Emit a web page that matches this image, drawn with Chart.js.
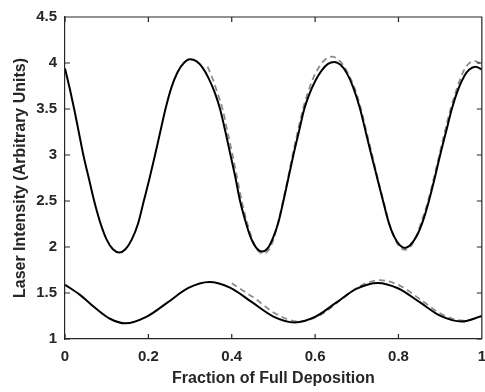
<!DOCTYPE html>
<html>
<head>
<meta charset="utf-8">
<script src="https://cdn.jsdelivr.net/npm/chart.js@4.4.0/dist/chart.umd.min.js"></script>
<style>
    html, body { margin: 0; padding: 0; background: #fff; overflow: hidden; }
    #wrap { width: 495px; height: 392px; }
</style>
</head>
<body>
<div id="wrap"><canvas id="chart" width="495" height="392"></canvas></div>
<script>
const upperX = [0, 0.011, 0.022, 0.033, 0.044, 0.057, 0.07, 0.085, 0.1, 0.115, 0.13, 0.145, 0.16, 0.175, 0.189, 0.203, 0.216, 0.229, 0.241, 0.255, 0.27, 0.285, 0.30,
    0.315, 0.33, 0.345, 0.36, 0.372, 0.385, 0.397, 0.409, 0.42, 0.433, 0.445, 0.459, 0.473, 0.487, 0.50, 0.512, 0.524, 0.536, 0.548, 0.561, 0.574, 0.586, 0.601, 0.616, 0.631, 0.646,
    0.661, 0.676, 0.691, 0.708, 0.7215, 0.735, 0.749, 0.763, 0.777, 0.79, 0.803, 0.815, 0.828, 0.845, 0.86, 0.873, 0.887, 0.90, 0.914, 0.928, 0.943, 0.958, 0.97, 0.985, 1.0];
const upperY = [3.94, 3.73, 3.5, 3.25, 3.0, 2.75, 2.5, 2.26, 2.08, 1.975, 1.94, 1.975, 2.08, 2.25, 2.5, 2.75, 3.0, 3.26, 3.5, 3.73, 3.9, 4.0, 4.04,
    4.02, 3.95, 3.83, 3.67, 3.5, 3.25, 3.0, 2.75, 2.5, 2.28, 2.11, 1.99, 1.95, 1.99, 2.11, 2.27, 2.5, 2.75, 3.0, 3.25, 3.5, 3.66, 3.81, 3.92, 3.99, 4.01,
    3.98, 3.89, 3.74, 3.5, 3.25, 3.0, 2.75, 2.5, 2.26, 2.11, 2.02, 1.99, 2.02, 2.13, 2.3, 2.5, 2.75, 3.0, 3.25, 3.5, 3.71, 3.86, 3.93, 3.96, 3.93];

const upperFitX = [0.342, 0.355, 0.366, 0.378, 0.39, 0.402, 0.413, 0.424, 0.436, 0.448, 0.461, 0.475, 0.489, 0.50, 0.511, 0.523, 0.535, 0.546, 0.558, 0.571, 0.58, 0.595, 0.61, 0.625, 0.64,
    0.655, 0.67, 0.685, 0.697, 0.71, 0.7235, 0.737, 0.75, 0.764, 0.777, 0.79, 0.803, 0.815, 0.828, 0.843, 0.857, 0.871, 0.885, 0.898, 0.911, 0.925, 0.943, 0.957, 0.968, 0.98, 0.99, 1.0];
const upperFitY = [3.96, 3.82, 3.67, 3.5, 3.25, 3.0, 2.75, 2.5, 2.28, 2.1, 1.97, 1.93, 1.97, 2.08, 2.26, 2.5, 2.75, 3.0, 3.25, 3.5, 3.64, 3.83, 3.96, 4.04, 4.07,
    4.04, 3.96, 3.83, 3.7, 3.5, 3.25, 3.0, 2.75, 2.5, 2.27, 2.1, 2.0, 1.97, 2.0, 2.12, 2.3, 2.5, 2.75, 3.0, 3.25, 3.5, 3.76, 3.92, 3.99, 4.02, 4.01, 3.98];

const lowerX = [0, 0.036, 0.072, 0.108, 0.145, 0.195, 0.2455, 0.296, 0.346, 0.397, 0.4485, 0.50, 0.551, 0.601, 0.6505, 0.70, 0.75, 0.80, 0.851, 0.901, 0.952, 1.0];
const lowerY = [1.59, 1.48, 1.34, 1.22, 1.17, 1.24, 1.395, 1.555, 1.62, 1.556, 1.40, 1.244, 1.18, 1.243, 1.395, 1.547, 1.61, 1.549, 1.40, 1.251, 1.19, 1.25];

const lowerFitX = [0.40, 0.45, 0.51, 0.563, 0.611, 0.659, 0.707, 0.755, 0.805, 0.8555, 0.906, 0.956, 1.0];
const lowerFitY = [1.605, 1.458, 1.263, 1.19, 1.256, 1.415, 1.574, 1.64, 1.576, 1.42, 1.264, 1.20, 1.25];

const xTicks = [0, 0.2, 0.4, 0.6, 0.8, 1];
const xTickLabels = ['0', '0.2', '0.4', '0.6', '0.8', '1'];
const yTicks = [1, 1.5, 2, 2.5, 3, 3.5, 4, 4.5];
const yTickLabels = ['1', '1.5', '2', '2.5', '3', '3.5', '4', '4.5'];

const axisColor = '#262626';
const fontFamily = '"Liberation Sans", Arial, Helvetica, sans-serif';

function toPoints(xs, ys) {
    return xs.map((x, i) => ({ x: x, y: ys[i] }));
}

// MATLAB style box with ticks pointing inward
const innerTicks = {
    id: 'innerTicks',
    afterDraw(chart) {
        const ctx = chart.ctx;
        const area = chart.chartArea;
        const xs = chart.scales.x;
        const ys = chart.scales.y;
        const len = 5;
        ctx.save();
        ctx.strokeStyle = axisColor;
        ctx.lineWidth = 1.2;
        ctx.beginPath();
        ctx.moveTo(area.left, area.top);
        ctx.lineTo(area.right, area.top);
        ctx.lineTo(area.right, area.bottom);
        xTicks.forEach(v => {
            const px = xs.getPixelForValue(v);
            ctx.moveTo(px, area.bottom);
            ctx.lineTo(px, area.bottom - len);
            ctx.moveTo(px, area.top);
            ctx.lineTo(px, area.top + len);
        });
        yTicks.forEach(v => {
            const py = ys.getPixelForValue(v);
            ctx.moveTo(area.left, py);
            ctx.lineTo(area.left + len, py);
            ctx.moveTo(area.right, py);
            ctx.lineTo(area.right - len, py);
        });
        ctx.stroke();
        ctx.restore();
    }
};

function curve(xs, ys, color, dashed) {
    return {
        data: toPoints(xs, ys),
        borderColor: color,
        borderWidth: dashed ? 1.8 : 2,
        borderDash: dashed ? [6, 4] : [],
        pointRadius: 0,
        fill: false,
        cubicInterpolationMode: 'monotone'
    };
}

function tickLabel(values, labels) {
    return function(value) {
        const i = values.findIndex(v => Math.abs(v - value) < 1e-9);
        return i >= 0 ? labels[i] : '';
    };
}

new Chart(document.getElementById('chart'), {
    type: 'line',
    data: {
        datasets: [
            curve(upperX, upperY, '#000000', false),
            curve(lowerX, lowerY, '#000000', false),
            curve(upperFitX, upperFitY, '#8c8c8c', true),
            curve(lowerFitX, lowerFitY, '#8c8c8c', true)
        ]
    },
    options: {
        responsive: false,
        animation: false,
        devicePixelRatio: 1,
        layout: { padding: { top: 13, right: 6, left: 0, bottom: 0 } },
        plugins: {
            legend: { display: false },
            tooltip: { enabled: false }
        },
        scales: {
            x: {
                type: 'linear',
                min: 0,
                max: 1,
                afterBuildTicks: s => { s.ticks = xTicks.map(v => ({ value: v })); },
                afterFit: s => { s.height = 53; },
                grid: { display: false, drawTicks: false },
                border: { display: true, color: axisColor, width: 1.2 },
                ticks: {
                    color: axisColor,
                    padding: 9,
                    maxRotation: 0,
                    callback: tickLabel(xTicks, xTickLabels),
                    font: { family: fontFamily, size: 15, weight: 'bold' }
                },
                title: {
                    display: true,
                    text: 'Fraction of Full Deposition',
                    color: axisColor,
                    padding: { top: 0, bottom: 4 },
                    font: { family: fontFamily, size: 16, weight: 'bold' }
                }
            },
            y: {
                type: 'linear',
                min: 1,
                max: 4.5,
                afterBuildTicks: s => { s.ticks = yTicks.map(v => ({ value: v })); },
                afterFit: s => { s.width = 65; },
                grid: { display: false, drawTicks: false },
                border: { display: true, color: axisColor, width: 1.2 },
                ticks: {
                    color: axisColor,
                    padding: 8,
                    callback: tickLabel(yTicks, yTickLabels),
                    font: { family: fontFamily, size: 15, weight: 'bold' }
                },
                title: {
                    display: true,
                    text: 'Laser Intensity (Arbitrary Units)',
                    color: axisColor,
                    padding: { top: 11, bottom: 0 },
                    font: { family: fontFamily, size: 16, weight: 'bold' }
                }
            }
        }
    },
    plugins: [innerTicks]
});
</script>
</body>
</html>
